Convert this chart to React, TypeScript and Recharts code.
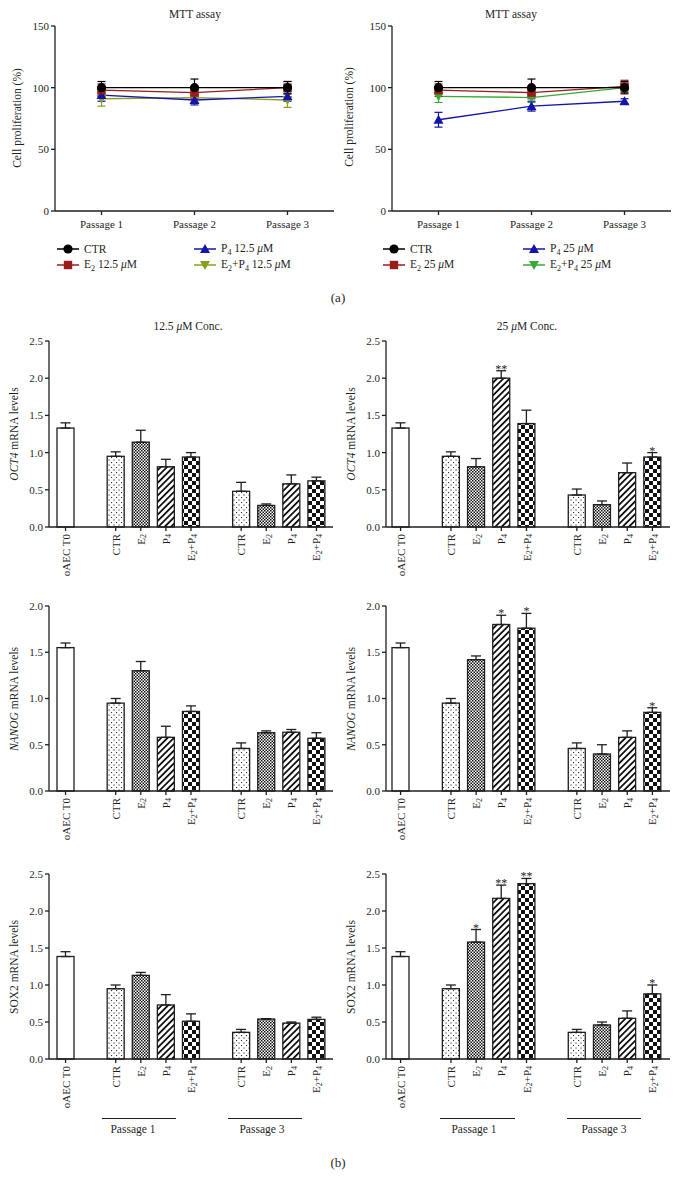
import React from "react";
import { Bar, BarChart, ErrorBar, Line, LineChart, XAxis, YAxis } from "recharts";

const FONT = '"Liberation Serif", "Times New Roman", serif';
const INK = "#1f1f1f";

// ---- (a) MTT assay ----
const PASSAGES = ["Passage 1", "Passage 2", "Passage 3"];

const MTT12_CTR = [100, 100, 100];
const MTT12_CTR_ERR = [5, 7, 5];
const MTT12_E2 = [98, 96, 100];
const MTT12_E2_ERR = [5, 5, 5];
const MTT12_P4 = [94, 90, 93];
const MTT12_P4_ERR = [5, 4, 4];
const MTT12_E2P4 = [91, 92, 90];
const MTT12_E2P4_ERR = [6, 4, 6];

const MTT25_CTR = [100, 100, 100];
const MTT25_CTR_ERR = [5, 7, 5];
const MTT25_E2 = [98, 96, 101];
const MTT25_E2_ERR = [5, 5, 5];
const MTT25_P4 = [74, 85, 89];
const MTT25_P4_ERR = [6, 4, 2];
const MTT25_E2P4 = [93, 92, 100];
const MTT25_E2P4_ERR = [5, 4, 3];

const MTT_TICKS = [0, 50, 100, 150];

// ---- (b) qPCR ----
const BAR_KEYS = ["t0", "gapA", "p1ctr", "p1e2", "p1p4", "p1e2p4", "gapB", "p3ctr", "p3e2", "p3p4", "p3e2p4"];
const BAR_GROUPS = ["T0", "", "CTR", "E2", "P4", "E2P4", "", "CTR", "E2", "P4", "E2P4"];
const BAR_TICK_KEYS = BAR_KEYS.filter((_, i) => BAR_GROUPS[i] !== "");

const OCT4_12 = [1.33, null, 0.95, 1.14, 0.81, 0.94, null, 0.48, 0.29, 0.58, 0.62];
const OCT4_12_ERR = [0.07, null, 0.06, 0.16, 0.1, 0.06, null, 0.12, 0.02, 0.12, 0.05];
const OCT4_12_SIG = ["", "", "", "", "", "", "", "", "", "", ""];

const OCT4_25 = [1.33, null, 0.95, 0.81, 2.0, 1.39, null, 0.43, 0.3, 0.73, 0.94];
const OCT4_25_ERR = [0.07, null, 0.06, 0.11, 0.1, 0.18, null, 0.08, 0.05, 0.13, 0.06];
const OCT4_25_SIG = ["", "", "", "", "**", "", "", "", "", "", "*"];

const NANOG_12 = [1.55, null, 0.95, 1.3, 0.58, 0.86, null, 0.46, 0.63, 0.635, 0.57];
const NANOG_12_ERR = [0.05, null, 0.05, 0.1, 0.12, 0.06, null, 0.06, 0.02, 0.03, 0.06];
const NANOG_12_SIG = ["", "", "", "", "", "", "", "", "", "", ""];

const NANOG_25 = [1.55, null, 0.95, 1.42, 1.8, 1.76, null, 0.46, 0.4, 0.58, 0.85];
const NANOG_25_ERR = [0.05, null, 0.05, 0.04, 0.1, 0.16, null, 0.06, 0.1, 0.07, 0.05];
const NANOG_25_SIG = ["", "", "", "", "*", "*", "", "", "", "", "*"];

const SOX2_12 = [1.385, null, 0.95, 1.13, 0.73, 0.51, null, 0.36, 0.54, 0.485, 0.535];
const SOX2_12_ERR = [0.065, null, 0.05, 0.04, 0.14, 0.1, null, 0.04, 0.005, 0.015, 0.03];
const SOX2_12_SIG = ["", "", "", "", "", "", "", "", "", "", ""];

const SOX2_25 = [1.385, null, 0.95, 1.58, 2.17, 2.37, null, 0.36, 0.46, 0.55, 0.88];
const SOX2_25_ERR = [0.065, null, 0.05, 0.17, 0.18, 0.07, null, 0.04, 0.04, 0.1, 0.12];
const SOX2_25_SIG = ["", "", "", "*", "**", "**", "", "", "", "", "*"];

const TICKS_25 = [0, 0.5, 1, 1.5, 2, 2.5];
const TICKS_20 = [0, 0.5, 1, 1.5, 2];

type Marker = "circle" | "square" | "up" | "down";

function markerShape(kind: Marker, color: string, cx: number, cy: number) {
  if (kind === "circle") return <circle cx={cx} cy={cy} r={4.6} fill={color} />;
  if (kind === "square") return <rect x={cx - 4.2} y={cy - 4.2} width={8.4} height={8.4} fill={color} />;
  if (kind === "up")
    return <polygon points={`${cx},${cy - 5} ${cx + 5},${cy + 4} ${cx - 5},${cy + 4}`} fill={color} />;
  return <polygon points={`${cx},${cy + 5} ${cx + 5},${cy - 4} ${cx - 5},${cy - 4}`} fill={color} />;
}

const Sub = ({ children }: { children: React.ReactNode }) => (
  <span style={{ fontSize: 8, verticalAlign: -3 }}>{children}</span>
);
const Mu = () => <i>μ</i>;

type Series = { key: string; values: number[]; errors: number[]; color: string; marker: Marker };

function LinePanel({ left, series }: { left: number; series: Series[] }) {
  const rows = PASSAGES.map((p, i) => {
    const row: Record<string, any> = { passage: p };
    series.forEach((s) => {
      row[s.key] = s.values[i];
      row[s.key + "Err"] = s.errors[i];
    });
    return row;
  });
  const tickStyle = { fill: INK, fontSize: 11, fontFamily: FONT };
  return (
    <div style={{ position: "absolute", left, top: 0 }}>
      <LineChart width={340} height={240} data={rows} margin={{ top: 26, right: 6, left: 10, bottom: 4 }}>
        <XAxis
          dataKey="passage"
          padding={{ left: 46.5, right: 46.5 }}
          tick={tickStyle}
          tickSize={4}
          tickMargin={5}
          height={25}
          stroke={INK}
          strokeWidth={1.3}
        />
        <YAxis
          domain={[0, 150]}
          ticks={MTT_TICKS}
          width={45}
          tick={tickStyle}
          tickSize={4}
          tickMargin={2}
          stroke={INK}
          strokeWidth={1.3}
        />
        {series.map((s) => (
          <Line
            key={s.key}
            dataKey={s.key}
            stroke={s.color}
            strokeWidth={1.3}
            isAnimationActive={false}
            activeDot={false}
            dot={(p: any) => <g key={`${s.key}-${p.index}`}>{markerShape(s.marker, s.color, p.cx, p.cy)}</g>}
          >
            <ErrorBar dataKey={s.key + "Err"} width={4} stroke={s.color} strokeWidth={1.2} direction="y" />
          </Line>
        ))}
      </LineChart>
    </div>
  );
}

function LegendItem({ left, top, color, marker, children }: any) {
  return (
    <div style={{ position: "absolute", left, top, display: "flex", alignItems: "center", height: 14, whiteSpace: "nowrap" }}>
      <svg width={22} height={12}>
        <line x1={0} x2={22} y1={6} y2={6} stroke={color} strokeWidth={1.5} />
        {markerShape(marker, color, 11, 6)}
      </svg>
      <span style={{ marginLeft: 5, fontSize: 11.5, color: INK }}>{children}</span>
    </div>
  );
}

function patternDefs(id: string) {
  return (
    <defs>
      <pattern id={`${id}-dots`} width={5} height={5} patternUnits="userSpaceOnUse">
        <rect width={5} height={5} fill="#fff" />
        <rect x={1} y={1} width={1.1} height={1.1} fill="#333" />
        <rect x={3.5} y={3.5} width={1.1} height={1.1} fill="#333" />
      </pattern>
      <pattern id={`${id}-fine`} width={3} height={3} patternUnits="userSpaceOnUse">
        <rect width={3} height={3} fill="#fff" />
        <rect width={1.5} height={1.5} fill="#111" />
        <rect x={1.5} y={1.5} width={1.5} height={1.5} fill="#111" />
      </pattern>
      <pattern id={`${id}-hatch`} width={4.5} height={4.5} patternUnits="userSpaceOnUse" patternTransform="rotate(45)">
        <rect width={4.5} height={4.5} fill="#fff" />
        <rect width={1.8} height={4.5} fill="#111" />
      </pattern>
      <pattern id={`${id}-check`} width={8} height={8} patternUnits="userSpaceOnUse">
        <rect width={8} height={8} fill="#fff" />
        <rect width={4} height={4} fill="#111" />
        <rect x={4} y={4} width={4} height={4} fill="#111" />
      </pattern>
    </defs>
  );
}

function fillFor(id: string, group: string) {
  if (group === "CTR") return `url(#${id}-dots)`;
  if (group === "E2") return `url(#${id}-fine)`;
  if (group === "P4") return `url(#${id}-hatch)`;
  if (group === "E2P4") return `url(#${id}-check)`;
  return "#fff";
}

function tickLabel(group: string) {
  if (group === "T0") return "oAEC T0";
  if (group === "CTR") return "CTR";
  if (group === "E2")
    return [
      <tspan key="a">E</tspan>,
      <tspan key="b" dy={2.5} fontSize={8}>2</tspan>,
    ];
  if (group === "P4")
    return [
      <tspan key="a">P</tspan>,
      <tspan key="b" dy={2.5} fontSize={8}>4</tspan>,
    ];
  return [
    <tspan key="a">E</tspan>,
    <tspan key="b" dy={2.5} fontSize={8}>2</tspan>,
    <tspan key="c" dy={-2.5}>+P</tspan>,
    <tspan key="d" dy={2.5} fontSize={8}>4</tspan>,
  ];
}

function BarPanel({ id, left, plotTop, plotH, yMax, yTicks, means, errs, sigs, pad }: any) {
  const rows = BAR_KEYS.map((k, i) => ({
    key: k,
    group: BAR_GROUPS[i],
    mean: means[i],
    errHi: errs[i],
    err: errs[i] == null ? null : [0, errs[i]],
    sig: sigs[i],
  }));
  const tickStyle = { fill: INK, fontSize: 11, fontFamily: FONT };
  const renderTick = (p: any) => {
    const idx = BAR_KEYS.indexOf(p.payload.value);
    const g = BAR_GROUPS[idx];
    if (!g) return <g />;
    return (
      <text
        transform={`translate(${p.x},${p.y}) rotate(-90)`}
        textAnchor="end"
        dominantBaseline="central"
        fontSize={11}
        fontFamily={FONT}
        fill={INK}
      >
        {tickLabel(g)}
      </text>
    );
  };
  const renderBar = (p: any) => {
    const { x, y, width, height, payload } = p;
    if (payload == null || payload.mean == null || !height) return <g />;
    const perUnit = height / payload.mean;
    const errTop = y + height - (payload.mean + (payload.errHi ?? 0)) * perUnit;
    return (
      <g>
        <rect x={x} y={y} width={width} height={height} fill={fillFor(id, payload.group)} stroke={INK} strokeWidth={1.3} />
        {payload.sig ? (
          <text x={x + width / 2} y={errTop + 2} textAnchor="middle" fontSize={12} fontFamily={FONT} fill={INK}>
            {payload.sig}
          </text>
        ) : null}
      </g>
    );
  };
  return (
    <div style={{ position: "absolute", left, top: plotTop - 20 }}>
      <BarChart width={340} height={20 + plotH + 60} data={rows} margin={{ top: 20, right: 7, left: 9, bottom: 0 }}>
        {patternDefs(id)}
        <XAxis
          dataKey="key"
          ticks={BAR_TICK_KEYS}
          interval={0}
          padding={pad}
          tick={renderTick}
          tickSize={4}
          tickMargin={3}
          height={60}
          stroke={INK}
          strokeWidth={1.3}
        />
        <YAxis
          domain={[0, yMax]}
          ticks={yTicks}
          tickFormatter={(v: number) => v.toFixed(1)}
          width={40}
          tick={tickStyle}
          tickSize={4}
          tickMargin={2}
          stroke={INK}
          strokeWidth={1.3}
        />
        <Bar dataKey="mean" barSize={17} shape={renderBar} isAnimationActive={false}>
          <ErrorBar dataKey="err" width={5} stroke={INK} strokeWidth={1.3} direction="y" />
        </Bar>
      </BarChart>
    </div>
  );
}

const Centered = ({ x, y, size = 11.5, rotate = false, children }: any) => (
  <div
    style={{
      position: "absolute",
      left: x,
      top: y,
      transform: `translate(-50%, -50%)${rotate ? " rotate(-90deg)" : ""}`,
      whiteSpace: "nowrap",
      fontSize: size,
      color: INK,
      lineHeight: 1,
    }}
  >
    {children}
  </div>
);

const HLine = ({ x1, x2, y }: any) => (
  <div style={{ position: "absolute", left: x1, top: y, width: x2 - x1, borderTop: `1.3px solid ${INK}` }} />
);

export default function App() {
  const RED = "#9c1a1a";
  const BLUE = "#1414a8";
  const OLIVE = "#86a01e";
  const GREEN = "#35ab35";
  const left12: Series[] = [
    { key: "e2p4", values: MTT12_E2P4, errors: MTT12_E2P4_ERR, color: OLIVE, marker: "down" },
    { key: "p4", values: MTT12_P4, errors: MTT12_P4_ERR, color: BLUE, marker: "up" },
    { key: "e2", values: MTT12_E2, errors: MTT12_E2_ERR, color: RED, marker: "square" },
    { key: "ctr", values: MTT12_CTR, errors: MTT12_CTR_ERR, color: "#000", marker: "circle" },
  ];
  const right25: Series[] = [
    { key: "e2p4", values: MTT25_E2P4, errors: MTT25_E2P4_ERR, color: GREEN, marker: "down" },
    { key: "p4", values: MTT25_P4, errors: MTT25_P4_ERR, color: BLUE, marker: "up" },
    { key: "e2", values: MTT25_E2, errors: MTT25_E2_ERR, color: RED, marker: "square" },
    { key: "ctr", values: MTT25_CTR, errors: MTT25_CTR_ERR, color: "#000", marker: "circle" },
  ];
  const padL = { left: 4, right: 4 };
  const padR = { left: 2, right: 5 };
  const ROWS = [
    { top: 341, h: 186, max: 2.5, ticks: TICKS_25, label: <><i>OCT4</i> mRNA levels</>,
      l: [OCT4_12, OCT4_12_ERR, OCT4_12_SIG], r: [OCT4_25, OCT4_25_ERR, OCT4_25_SIG] },
    { top: 606, h: 185, max: 2.0, ticks: TICKS_20, label: <><i>NANOG</i> mRNA levels</>,
      l: [NANOG_12, NANOG_12_ERR, NANOG_12_SIG], r: [NANOG_25, NANOG_25_ERR, NANOG_25_SIG] },
    { top: 874, h: 185, max: 2.5, ticks: TICKS_25, label: <>SOX2 mRNA levels</>,
      l: [SOX2_12, SOX2_12_ERR, SOX2_12_SIG], r: [SOX2_25, SOX2_25_ERR, SOX2_25_SIG] },
  ];

  return (
    <div style={{ position: "absolute", left: 0, top: 0, width: 677, height: 1193, fontFamily: FONT, background: "#fff" }}>
      {/* (a) */}
      <LinePanel left={0} series={left12} />
      <LinePanel left={337} series={right25} />
      <Centered x={195} y={15}>MTT assay</Centered>
      <Centered x={511} y={15}>MTT assay</Centered>
      <Centered x={18} y={118} rotate>Cell proliferation (%)</Centered>
      <Centered x={350} y={117} rotate>Cell proliferation (%)</Centered>

      <LegendItem left={57} top={242} color="#000" marker="circle">CTR</LegendItem>
      <LegendItem left={57} top={258} color={RED} marker="square">E<Sub>2</Sub> 12.5 <Mu />M</LegendItem>
      <LegendItem left={194} top={242} color={BLUE} marker="up">P<Sub>4</Sub> 12.5 <Mu />M</LegendItem>
      <LegendItem left={194} top={258} color={OLIVE} marker="down">E<Sub>2</Sub>+P<Sub>4</Sub> 12.5 <Mu />M</LegendItem>

      <LegendItem left={383} top={242} color="#000" marker="circle">CTR</LegendItem>
      <LegendItem left={383} top={258} color={RED} marker="square">E<Sub>2</Sub> 25 <Mu />M</LegendItem>
      <LegendItem left={523} top={242} color={BLUE} marker="up">P<Sub>4</Sub> 25 <Mu />M</LegendItem>
      <LegendItem left={523} top={258} color={GREEN} marker="down">E<Sub>2</Sub>+P<Sub>4</Sub> 25 <Mu />M</LegendItem>

      <Centered x={338} y={297} size={13}>(a)</Centered>

      {/* (b) */}
      <Centered x={188} y={327}>12.5 <Mu />M Conc.</Centered>
      <Centered x={527} y={327}>25 <Mu />M Conc.</Centered>
      {ROWS.map((r, i) => (
        <React.Fragment key={i}>
          <BarPanel id={`l${i}`} left={0} plotTop={r.top} plotH={r.h} yMax={r.max} yTicks={r.ticks}
            means={r.l[0]} errs={r.l[1]} sigs={r.l[2]} pad={padL} />
          <BarPanel id={`r${i}`} left={337} plotTop={r.top} plotH={r.h} yMax={r.max} yTicks={r.ticks}
            means={r.r[0]} errs={r.r[1]} sigs={r.r[2]} pad={padR} />
          <Centered x={15} y={r.top + r.h / 2} rotate>{r.label}</Centered>
          <Centered x={352} y={r.top + r.h / 2} rotate>{r.label}</Centered>
        </React.Fragment>
      ))}

      <HLine x1={102} x2={176} y={1118} />
      <HLine x1={228} x2={302} y={1118} />
      <HLine x1={440} x2={515} y={1118} />
      <HLine x1={567} x2={641} y={1118} />
      <Centered x={133} y={1130}>Passage 1</Centered>
      <Centered x={262} y={1130}>Passage 3</Centered>
      <Centered x={474} y={1130}>Passage 1</Centered>
      <Centered x={604} y={1130}>Passage 3</Centered>

      <Centered x={338} y={1162} size={13}>(b)</Centered>
    </div>
  );
}
